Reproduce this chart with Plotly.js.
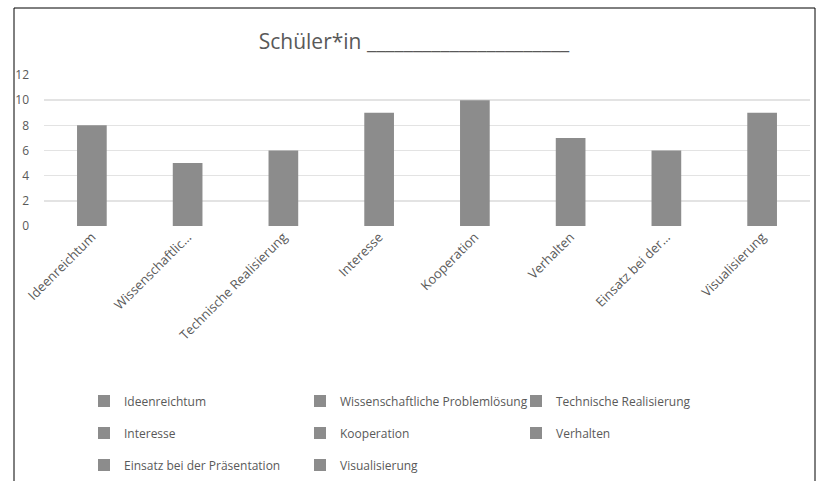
<!DOCTYPE html>
<html>
<head>
<meta charset="utf-8">
<script src="https://cdn.plot.ly/plotly-3.0.1.min.js"></script>
<style>html,body{margin:0;padding:0;background:#fff;}#chart{width:818px;height:481px;}</style>
</head>
<body>
<div id="chart"></div>
<script>
const categories = ["Ideenreichtum", "Wissenschaftlic…", "Technische Realisierung", "Interesse", "Kooperation", "Verhalten", "Einsatz bei der…", "Visualisierung"];
const legendNames = ["Ideenreichtum", "Wissenschaftliche Problemlösung", "Technische Realisierung", "Interesse", "Kooperation", "Verhalten", "Einsatz bei der Präsentation", "Visualisierung"];
const values = [8, 5, 6, 9, 10, 7, 6, 9];
const yTicks = [0, 2, 4, 6, 8, 10, 12];
const titleText = "Schüler*in ______________________";

const rowOf = [0,0,0,1,1,1,2,2];
const legendIds = ["legend", "legend2", "legend3"];

const traces = categories.map((c, i) => ({
  type: "bar",
  x: [c],
  y: [values[i]],
  name: legendNames[i],
  legend: legendIds[rowOf[i]],
  marker: { color: "#8c8c8c" },
  width: 0.31,
  hoverinfo: "x+y"
}));

const plotLeft = 44, plotRight = 810, plotTop = 75, plotBottom = 226;
const pw = plotRight - plotLeft;
const px = (x) => (x - plotLeft) / pw;
const py = (y) => (plotBottom - y) / (plotBottom - plotTop);

const legendBase = {
  orientation: "h",
  x: px(84),
  xanchor: "left",
  yanchor: "middle",
  entrywidth: 171,
  entrywidthmode: "pixels",
  font: { family: "Open Sans, sans-serif", size: 12, color: "#595959" },
  itemwidth: 30,
  bgcolor: "rgba(0,0,0,0)"
};

const layout = {
  width: 818,
  height: 481,
  margin: { l: plotLeft, r: 818 - plotRight, t: plotTop, b: 481 - plotBottom, autoexpand: false },
  paper_bgcolor: "#ffffff",
  plot_bgcolor: "#ffffff",
  font: { family: "Open Sans, sans-serif", color: "#595959" },
  barmode: "relative",
  title: {
    text: titleText,
    x: 414/818,
    xanchor: "center",
    y: 1 - 42/481,
    yanchor: "middle",
    font: { family: "Open Sans, sans-serif", size: 21, color: "#595959" }
  },
  xaxis: {
    type: "category",
    tickangle: -45,
    tickfont: { family: "Open Sans, sans-serif", size: 13, color: "#595959" },
    showgrid: false,
    showline: false,
    ticks: "",
    zeroline: false
  },
  yaxis: {
    range: [0, 12],
    tickvals: yTicks,
    ticktext: yTicks.map(String),
    tickfont: { family: "Open Sans, sans-serif", size: 12, color: "#595959" },
    showgrid: true,
    gridcolor: "#e3e3e3",
    gridwidth: 1.5,
    zeroline: false,
    showline: false,
    ticks: "",
    ticklabelstandoff: 14
  },
  legend: Object.assign({}, legendBase, { y: py(401) }),
  legend2: Object.assign({}, legendBase, { y: py(433) }),
  legend3: Object.assign({}, legendBase, { y: py(465) }),
  shapes: [
    { type: "rect", xref: "paper", yref: "paper",
      x0: px(14), x1: px(815), y0: py(490), y1: py(8),
      line: { color: "#000000", width: 1 }, fillcolor: "rgba(0,0,0,0)", layer: "below" }
  ],
  showlegend: true
};

Plotly.newPlot("chart", traces, layout, { displayModeBar: false, staticPlot: true });
</script>
</body>
</html>
